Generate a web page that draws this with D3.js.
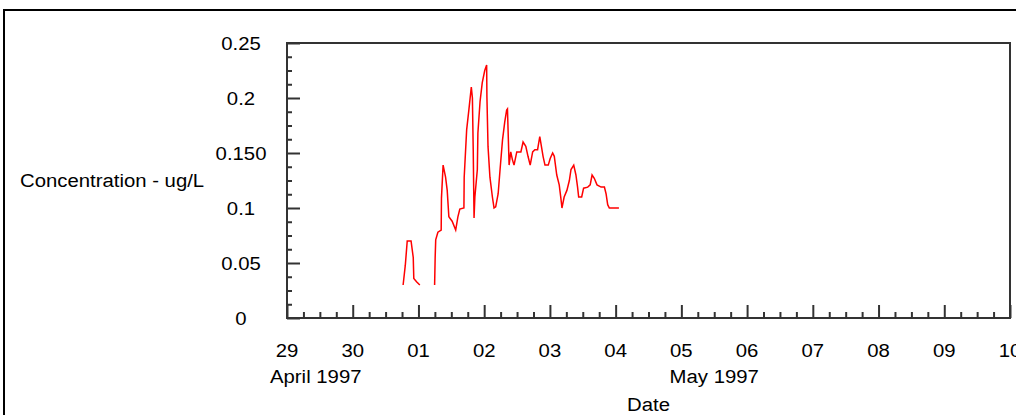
<!DOCTYPE html>
<html><head><meta charset="utf-8">
<script src="https://cdn.jsdelivr.net/npm/d3@7"></script>
<style>
html,body{margin:0;padding:0;background:#fff;overflow:hidden}
text{font-family:"Liberation Sans",Arial,sans-serif;font-size:18px;fill:#000}
</style>
</head><body>
<svg id="c" width="1016" height="415"></svg>
<script>
// ---- data ----
const startDate = "1997-04-29T00:00";
const endDate = "1997-05-10T00:00";
const dayTickLabels = ["29","30","01","02","03","04","05","06","07","08","09","10"];
const monthLabels = ["April 1997","May 1997"];
const yTickValues = [0,0.05,0.1,0.15,0.2,0.25];
const yTickLabels = ["0","0.05","0.1","0.150","0.2","0.25"];
const yTitle = "Concentration - ug/L";
const xTitle = "Date";
// hours after startDate
const sampleHours = [42.4,43.2,43.9,45.3,46.1,46.3,47.3,48.5,51,
  53.9,54.1,54.3,55.1,56.3,56.4,57.0,57.9,58.5,59.1,60.3,61.6,62.4,63.1,64.6,64.7,
  65.6,66.4,67.3,67.7,68.0,68.3,68.6,69.5,69.7,70.5,71.3,72.2,72.9,73.0,73.4,74.1,
  75.0,75.6,76.2,77.1,77.8,78.7,79.5,80.2,80.5,81.1,81.7,82.3,82.9,83.9,85.4,86.2,
  87.2,88.0,88.8,89.7,90.5,91.5,92.3,92.7,93.5,94.2,95.4,96.1,97.0,97.6,98.5,99.4,
  100.0,100.4,101.2,102.2,103.1,103.7,104.7,105.5,106.1,106.5,107.6,108.3,109.8,
  110.7,111.4,112.2,113.2,114.7,115.9,116.5,117.1,117.7,121.2];
const concentration = [0.03,0.048,0.07,0.07,0.055,0.036,0.033,0.03,null,
  0.03,0.055,0.071,0.078,0.08,0.109,0.139,0.128,0.116,0.092,0.088,0.08,0.092,0.099,0.10,0.128,
  0.171,0.189,0.21,0.20,0.153,0.091,0.110,0.135,0.168,0.197,0.214,0.225,0.23,0.201,0.156,0.128,
  0.11,0.10,0.101,0.113,0.135,0.162,0.178,0.189,0.19,0.139,0.151,0.144,0.139,0.151,0.151,0.160,
  0.156,0.147,0.139,0.151,0.153,0.153,0.165,0.159,0.147,0.139,0.139,0.145,0.150,0.147,0.13,0.121,
  0.109,0.10,0.110,0.116,0.125,0.135,0.139,0.13,0.119,0.110,0.11,0.118,0.119,
  0.121,0.13,0.127,0.121,0.119,0.119,0.113,0.103,0.10,0.10];

// ---- chart ----
const SX = 1.13;
const svg = d3.select("#c");
const L = 287, R = 1010, T = 43, B = 318;
const t0 = new Date(startDate), t1 = new Date(endDate);
const x = d3.scaleTime().domain([t0, t1]).range([L, R]);
const y = d3.scaleLinear().domain([0, 0.25]).range([B, T]);

svg.append("rect").attr("width",1016).attr("height",415).attr("fill","#fff");
// outer frame
svg.append("rect").attr("x",4).attr("y",10).attr("width",1100).attr("height",500)
  .attr("fill","none").attr("stroke","#000").attr("stroke-width",2);

function label(txt, px, py, anchor){
  svg.append("text").attr("transform",`translate(${px},${py}) scale(${SX},1)`)
    .attr("text-anchor",anchor).text(txt);
}

const axisColor = "#333";
// y minor ticks
const yMinor = d3.range(1,20).map(i=>i*0.0125).filter(v=>Math.abs(v/0.05-Math.round(v/0.05))>1e-6);
const gy = svg.append("g").attr("transform",`translate(${L},0)`);
gy.call(d3.axisLeft(y).tickValues(yMinor).tickSize(-5).tickFormat(""));
const gy2 = svg.append("g").attr("transform",`translate(${L},0)`);
gy2.call(d3.axisLeft(y).tickValues(yTickValues).tickSize(-13).tickFormat(""));
// x ticks
const days = d3.timeDay.range(t0, d3.timeDay.offset(t1,1));
const quarter = d3.timeHour.every(6).range(t0, t1).filter(d=>d.getHours()!==0);
const gx = svg.append("g").attr("transform",`translate(0,${B})`);
gx.call(d3.axisBottom(x).tickValues(quarter).tickSize(-6).tickFormat(""));
const gx2 = svg.append("g").attr("transform",`translate(0,${B})`);
gx2.call(d3.axisBottom(x).tickValues(days).tickSize(-13).tickFormat(""));
svg.selectAll(".domain").remove();
svg.selectAll(".tick line").attr("stroke",axisColor).attr("stroke-width",2);

// plot box
svg.append("rect").attr("x",L).attr("y",T).attr("width",R-L).attr("height",B-T)
  .attr("fill","none").attr("stroke",axisColor).attr("stroke-width",2);

// labels
yTickValues.forEach((v,i)=>label(yTickLabels[i], 241, y(v)+6.5, "middle"));
days.forEach((d,i)=>label(dayTickLabels[i], x(d), 357, "middle"));
label(monthLabels[0], x(t0)-17, 383, "start");
const may1 = new Date("1997-05-01T00:00");
label(monthLabels[1], (x(may1)+x(t1))/2, 383, "middle");
label(xTitle, (L+R)/2, 411, "middle");
label(yTitle, 20, 187, "start");

// data line
const data = sampleHours.map((h,i)=>({t:new Date(t0.getTime()+h*3600e3), v:concentration[i]}));
const line = d3.line().defined(d=>d.v!==null).x(d=>x(d.t)).y(d=>y(d.v));
svg.append("path").datum(data).attr("d",line).attr("fill","none")
  .attr("stroke","#ff0000").attr("stroke-width",1.5).attr("stroke-linejoin","miter");
</script>
</body></html>
